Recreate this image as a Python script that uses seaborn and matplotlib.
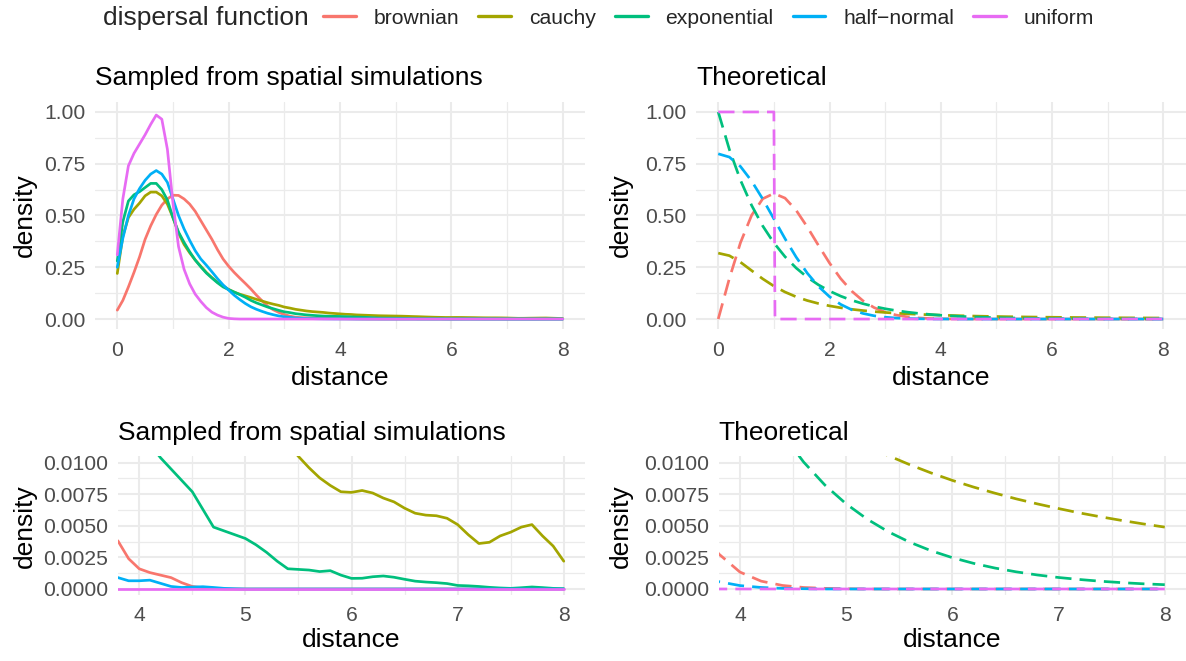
import numpy as np
import pandas as pd
import matplotlib
matplotlib.use("Agg")
import matplotlib.pyplot as plt
from matplotlib.lines import Line2D
from matplotlib.ticker import FixedLocator
import seaborn as sns

# ---------------- data ----------------
categories = ["brownian", "cauchy", "exponential", "half\u2212normal", "uniform"]
colors = ["#F8766D", "#A3A500", "#00BF7D", "#00B0F6", "#E76BF3"]

# sampled (spatial simulations) densities, read at distance 0.0, 0.1, ..., 8.0
sampled_x = [round(0.1 * i, 1) for i in range(81)]

sampled_brownian = [
    0.043, 0.09, 0.155, 0.225, 0.30, 0.385, 0.45, 0.505, 0.55, 0.58,
    0.598, 0.597, 0.58, 0.555, 0.52, 0.475, 0.43, 0.385, 0.335, 0.29,
    0.255, 0.225, 0.198, 0.172, 0.145, 0.115, 0.088, 0.062, 0.045, 0.032,
    0.022, 0.014, 0.009, 0.007, 0.0058, 0.0052, 0.0048, 0.0044, 0.0038, 0.0024,
    0.0016, 0.0013, 0.0011, 0.0009, 0.0005, 0.0002, 0.0001, 0.00005, 0.0, 0.0,
    0.0, 0.0, 0.0, 0.0, 0.0, 0.0, 0.0, 0.0, 0.0, 0.0,
    0.0, 0.0, 0.0, 0.0, 0.0, 0.0, 0.0, 0.0, 0.0, 0.0,
    0.0, 0.0, 0.0, 0.0, 0.0, 0.0, 0.0, 0.0, 0.0, 0.0,
    0.0]

sampled_cauchy = [
    0.22, 0.40, 0.49, 0.53, 0.56, 0.595, 0.613, 0.613, 0.595, 0.555,
    0.49, 0.415, 0.36, 0.32, 0.285, 0.255, 0.225, 0.20, 0.178, 0.16,
    0.143, 0.13, 0.12, 0.112, 0.104, 0.095, 0.087, 0.079, 0.072, 0.066,
    0.058, 0.053, 0.047, 0.043, 0.039, 0.036, 0.034, 0.032, 0.029, 0.027,
    0.025, 0.023, 0.022, 0.020, 0.019, 0.018, 0.017, 0.016, 0.0155, 0.015,
    0.0145, 0.014, 0.0132, 0.0122, 0.0115, 0.0105, 0.0096, 0.0088, 0.0082, 0.0077,
    0.00765, 0.0078, 0.0076, 0.0072, 0.0069, 0.0064, 0.0060, 0.00585, 0.0058, 0.0056,
    0.0051, 0.0043, 0.0036, 0.0037, 0.0042, 0.0045, 0.0049, 0.0051, 0.0042, 0.0034,
    0.0022]

sampled_exponential = [
    0.28, 0.47, 0.57, 0.60, 0.615, 0.635, 0.655, 0.655, 0.625, 0.575,
    0.49, 0.42, 0.37, 0.325, 0.285, 0.252, 0.222, 0.198, 0.175, 0.155,
    0.142, 0.13, 0.118, 0.105, 0.09, 0.078, 0.068, 0.058, 0.05, 0.042,
    0.035, 0.031, 0.026, 0.023, 0.02, 0.018, 0.016, 0.0145, 0.0135, 0.013,
    0.0125, 0.0115, 0.0104, 0.0095, 0.0086, 0.0077, 0.0063, 0.0049, 0.0046, 0.0043,
    0.0040, 0.0035, 0.0029, 0.0022, 0.0016, 0.00155, 0.0015, 0.00138, 0.00145, 0.0011,
    0.00084, 0.00085, 0.00097, 0.00103, 0.00093, 0.00077, 0.00062, 0.00055, 0.0005, 0.00043,
    0.00028, 0.00025, 0.0002, 0.00013, 0.00008, 0.00005, 0.0001, 0.00016, 0.00011, 0.00005,
    0.00002]

sampled_halfnormal = [
    0.25, 0.39, 0.50, 0.58, 0.63, 0.67, 0.70, 0.717, 0.70, 0.66,
    0.58, 0.50, 0.435, 0.38, 0.33, 0.29, 0.26, 0.228, 0.195, 0.165,
    0.14, 0.115, 0.094, 0.075, 0.059, 0.047, 0.037, 0.028, 0.021, 0.015,
    0.011, 0.008, 0.005, 0.0035, 0.0025, 0.002, 0.0015, 0.0011, 0.0009, 0.00065,
    0.00065, 0.0007, 0.00045, 0.0002, 0.00012, 0.00015, 0.00018, 0.00012, 0.00005, 0.00002,
    0.0, 0.0, 0.0, 0.0, 0.0, 0.0, 0.0, 0.0, 0.0, 0.0,
    0.0, 0.0, 0.0, 0.0, 0.0, 0.0, 0.0, 0.0, 0.0, 0.0,
    0.0, 0.0, 0.0, 0.0, 0.0, 0.0, 0.0, 0.0, 0.0, 0.0,
    0.0]

sampled_uniform = [
    0.31, 0.58, 0.74, 0.80, 0.845, 0.89, 0.94, 0.985, 0.965, 0.82,
    0.56, 0.35, 0.24, 0.17, 0.12, 0.085, 0.055, 0.033, 0.019, 0.009,
    0.003, 0.001, 0.0, 0.0, 0.0, 0.0, 0.0, 0.0, 0.0, 0.0,
    0.0, 0.0, 0.0, 0.0, 0.0, 0.0, 0.0, 0.0, 0.0, 0.0,
    0.0, 0.0, 0.0, 0.0, 0.0, 0.0, 0.0, 0.0, 0.0, 0.0,
    0.0, 0.0, 0.0, 0.0, 0.0, 0.0, 0.0, 0.0, 0.0, 0.0,
    0.0, 0.0, 0.0, 0.0, 0.0, 0.0, 0.0, 0.0, 0.0, 0.0,
    0.0, 0.0, 0.0, 0.0, 0.0, 0.0, 0.0, 0.0, 0.0, 0.0,
    0.0]

# theoretical densities, read at distance 0.0, 0.2, ..., 8.0
theo_x = [round(0.2 * i, 1) for i in range(41)]

theo_brownian = [
    0.0, 0.19604, 0.36925, 0.50116, 0.58092, 0.60653, 0.58410, 0.52543, 0.44486, 0.35622,
    0.27067, 0.19562, 0.13471, 0.08853, 0.05555, 0.03333, 0.01914, 0.01051, 0.00551, 0.00278,
    0.00134, 0.00062, 0.00028, 0.00012, 0.00005, 0.00002, 0.0, 0.0, 0.0, 0.0,
    0.0, 0.0, 0.0, 0.0, 0.0, 0.0, 0.0, 0.0, 0.0, 0.0,
    0.0]

theo_cauchy = [
    0.31831, 0.30607, 0.27441, 0.23405, 0.19409, 0.15915, 0.13046, 0.10754, 0.08941, 0.07507,
    0.06366, 0.05450, 0.04709, 0.04102, 0.03601, 0.03183, 0.02832, 0.02534, 0.02280, 0.02062,
    0.01872, 0.01708, 0.01563, 0.01436, 0.01324, 0.01224, 0.01135, 0.01055, 0.00984, 0.00919,
    0.00860, 0.00807, 0.00759, 0.00714, 0.00674, 0.00637, 0.00602, 0.00571, 0.00542, 0.00515,
    0.00490]

theo_exponential = [
    1.0, 0.81873, 0.67032, 0.54881, 0.44933, 0.36788, 0.30119, 0.24660, 0.20190, 0.16530,
    0.13534, 0.11080, 0.09072, 0.07427, 0.06081, 0.04979, 0.04076, 0.03337, 0.02732, 0.02237,
    0.01832, 0.01500, 0.01228, 0.01005, 0.00823, 0.00674, 0.00552, 0.00452, 0.00370, 0.00303,
    0.00248, 0.00203, 0.00166, 0.00136, 0.00111, 0.00091, 0.00075, 0.00061, 0.00050, 0.00041,
    0.00034]

theo_halfnormal = [
    0.79788, 0.78208, 0.73654, 0.66645, 0.57938, 0.48394, 0.38837, 0.29945, 0.22184, 0.15790,
    0.10798, 0.07095, 0.04478, 0.02717, 0.01583, 0.00886, 0.00477, 0.00247, 0.00122, 0.00058,
    0.00027, 0.00012, 0.00005, 0.00002, 0.0, 0.0, 0.0, 0.0, 0.0, 0.0,
    0.0, 0.0, 0.0, 0.0, 0.0, 0.0, 0.0, 0.0, 0.0, 0.0,
    0.0]

theo_uniform_x = [0.0, 1.0, 1.02, 8.0]
theo_uniform = [1.0, 1.0, 0.0, 0.0]

top_title_left = "Sampled from spatial simulations"
top_title_right = "Theoretical"
legend_title = "dispersal function"

# ---------------- long tables ----------------
def long_table(pairs):
    frames = []
    for cat, xs, ys in pairs:
        frames.append(pd.DataFrame({"distance": xs, "density": ys,
                                    "dispersal function": cat}))
    return pd.concat(frames, ignore_index=True)

sampled_df = long_table([
    (categories[0], sampled_x, sampled_brownian),
    (categories[1], sampled_x, sampled_cauchy),
    (categories[2], sampled_x, sampled_exponential),
    (categories[3], sampled_x, sampled_halfnormal),
    (categories[4], sampled_x, sampled_uniform),
])
theo_df = long_table([
    (categories[0], theo_x, theo_brownian),
    (categories[1], theo_x, theo_cauchy),
    (categories[2], theo_x, theo_exponential),
    (categories[3], theo_x, theo_halfnormal),
    (categories[4], theo_uniform_x, theo_uniform),
])

# ---------------- style ----------------
sns.set_theme(style="white")
plt.rcParams["font.family"] = ["Liberation Sans", "DejaVu Sans"]

W, H = 1186, 661
fig = plt.figure(figsize=(W / 100, H / 100), dpi=100)

def px_axes(left, top, right, bottom):
    return fig.add_axes([left / W, 1 - bottom / H, (right - left) / W, (bottom - top) / H])

ax_tl = px_axes(95, 101.6, 585, 329.4)
ax_tr = px_axes(696, 101.6, 1185.5, 329.4)
ax_bl = px_axes(118, 456.4, 585, 595.3)
ax_br = px_axes(718.7, 456.4, 1186, 595.3)

palette = dict(zip(categories, colors))
LW = 1.95
DASH = (0, (6.0, 3.0))

for ax, df, dashed in [(ax_tl, sampled_df, False), (ax_tr, theo_df, True),
                       (ax_bl, sampled_df, False), (ax_br, theo_df, True)]:
    kw = dict(linestyle=DASH, dash_capstyle="butt") if dashed else {}
    sns.lineplot(data=df, x="distance", y="density", hue="dispersal function",
                 hue_order=categories, palette=palette, ax=ax, legend=False,
                 estimator=None, sort=False, linewidth=LW, **kw)

TICK_FS = 15.2
LAB_FS = 19
grid_major = dict(color="#EBEBEB", linewidth=1.5)
grid_minor = dict(color="#EBEBEB", linewidth=0.9)

def style_axis(ax, xlim, ylim, xmajor, xminor, ymajor, yminor, yfmt, title):
    ax.set_xlim(*xlim)
    ax.set_ylim(*ylim)
    ax.xaxis.set_major_locator(FixedLocator(xmajor))
    ax.xaxis.set_minor_locator(FixedLocator(xminor))
    ax.yaxis.set_major_locator(FixedLocator(ymajor))
    ax.yaxis.set_minor_locator(FixedLocator(yminor))
    ax.set_yticklabels([yfmt.format(v) for v in ymajor])
    ax.set_xticklabels([str(v) for v in xmajor])
    ax.grid(True, which="major", **grid_major)
    ax.grid(True, which="minor", **grid_minor)
    ax.set_axisbelow(True)
    for s in ax.spines.values():
        s.set_visible(False)
    ax.tick_params(axis="both", which="both", length=0, labelsize=TICK_FS,
                   labelcolor="#4D4D4D")
    ax.tick_params(axis="x", pad=8)
    ax.tick_params(axis="y", pad=7)
    ax.set_xlabel("distance", fontsize=LAB_FS, color="black")
    ax.set_ylabel("density", fontsize=LAB_FS, color="black")
    ax.set_title(title, loc="left", fontsize=LAB_FS, color="black", pad=12)
    ax.set_facecolor("white")

style_axis(ax_tl, (-0.4, 8.4), (-0.05, 1.05), [0, 2, 4, 6, 8], [1, 3, 5, 7],
           [0, 0.25, 0.5, 0.75, 1.0], [0.125, 0.375, 0.625, 0.875], "{:.2f}", top_title_left)
style_axis(ax_tr, (-0.4, 8.4), (-0.05, 1.05), [0, 2, 4, 6, 8], [1, 3, 5, 7],
           [0, 0.25, 0.5, 0.75, 1.0], [0.125, 0.375, 0.625, 0.875], "{:.2f}", top_title_right)
style_axis(ax_bl, (3.8, 8.2), (-0.0005, 0.0105), [4, 5, 6, 7, 8], [4.5, 5.5, 6.5, 7.5],
           [0, 0.0025, 0.005, 0.0075, 0.01], [0.00125, 0.00375, 0.00625, 0.00875], "{:.4f}", top_title_left)
style_axis(ax_br, (3.8, 8.2), (-0.0005, 0.0105), [4, 5, 6, 7, 8], [4.5, 5.5, 6.5, 7.5],
           [0, 0.0025, 0.005, 0.0075, 0.01], [0.00125, 0.00375, 0.00625, 0.00875], "{:.4f}", top_title_right)

# axis-title placement
def place_labels(ax, ylab_px_x, xlab_px_y, left, right, top, bottom):
    ax.yaxis.set_label_coords((ylab_px_x - left) / (right - left), 0.5)
    ax.yaxis.label.set_va("center")
    ax.xaxis.set_label_coords(0.5, (bottom - xlab_px_y) / (bottom - top))
    ax.xaxis.label.set_va("center")

place_labels(ax_tl, 25, 378, 95, 585, 101.6, 329.4)
place_labels(ax_tr, 621, 378, 696, 1185.5, 101.6, 329.4)
place_labels(ax_bl, 25, 640, 118, 585, 456.4, 595.3)
place_labels(ax_br, 621, 640, 718.7, 1186, 456.4, 595.3)

# legend on top
fig.text(103 / W, 1 - 18 / H, legend_title, fontsize=LAB_FS, va="center", ha="left")
handles = [Line2D([0], [0], color=c, lw=2.4) for c in colors]
fig.legend(handles, categories, ncol=5, loc="center left",
           bbox_to_anchor=(323 / W, 1 - 18 / H), frameon=False, fontsize=TICK_FS,
           handlelength=1.55, handletextpad=0.85, columnspacing=0.9,
           borderpad=0, borderaxespad=0)

fig.savefig("out.png", dpi=100, facecolor="white")
